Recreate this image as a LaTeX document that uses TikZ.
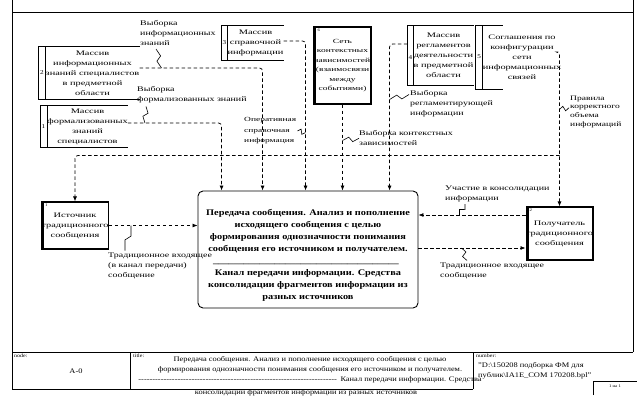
\documentclass[tikz,border=0pt]{standalone}
\usepackage{fontspec}
\setmainfont{Liberation Serif}[FakeStretch=1.2]
\newfontfamily\wfont{Liberation Serif}[FakeStretch=1.5]
\newfontfamily\lfont{Liberation Serif}[FakeStretch=1.4]
\usetikzlibrary{arrows.meta,calc}

\tikzset{
  txt/.style={font=\fontsize{7}{10}\selectfont, inner sep=0pt},
  lbl/.style={font=\lfont\fontsize{7.1}{10}\selectfont, inner sep=0pt, align=left, anchor=north west},
  obox/.style={font=\wfont\fontsize{6.9}{10}\selectfont, inner sep=0pt, align=center},
  kbox/.style={obox, draw, line width=1.1pt},
  num/.style={font=\fontsize{6}{6}\selectfont, inner sep=0pt},
  edge/.style={line width=0.7pt},
  flow/.style={line width=0.75pt, dash pattern=on 3.5pt off 2.5pt, rounded corners=3pt, -{Latex[length=5pt,width=4pt]}},
  zz/.style={line width=0.6pt},
}
\newcommand{\zig}[2]{%
  \coordinate (za) at (#1); \coordinate (zb) at (#2);
  \draw[zz] (za) -- ($(za)!0.4!(zb)!2.5pt!90:(zb)$) -- ($(za)!0.6!(zb)!2.5pt!-90:(zb)$) -- (zb);}

\begin{document}
\begin{tikzpicture}[x=1pt,y=-1pt,>=Latex]
\useasboundingbox (0,0) rectangle (639,404);
% frame
\draw[edge] (12,0) -- (12,389) -- (473,389);
\draw[edge] (12,12) -- (633,12);
\draw[edge] (633,0) -- (633,352);
\draw[edge] (12,352) -- (633,352);
\draw[edge] (130,352) -- (130,389);
\draw[edge] (473,352) -- (473,389);
\draw[edge] (593,395) -- (593,381) -- (637,381);

% arrays and sources
\node[obox, minimum width=85pt, minimum height=52pt] (mas2) at (92.5,73) {Массив\\информационных\\знаний специалистов\\в предметной\\области};
\node[obox, minimum width=75pt, minimum height=41pt] (mas1) at (87.5,126.5) {Массив\\формализованных\\знаний\\специалистов};
\node[obox, minimum width=49pt, minimum height=34pt] (mas3) at (255.5,43) {Массив\\справочной\\информации};
\node[obox, minimum width=53pt, minimum height=59pt] (mas4) at (443.5,55.5) {Массив\\регламентов\\деятельности\\в предметной\\области};
\node[obox, minimum width=52pt, minimum height=63pt] (mas5) at (522,57.5) {Соглашения по\\конфигурации\\сети\\информационных\\связей};
\draw[edge] (mas2.north east) -- ($(mas2.north west)+(-7,0)$) -- ($(mas2.south west)+(-7,0)$) -- (mas2.south east);
\draw[edge] (mas2.north west) -- (mas2.south west);
\draw[edge] (mas1.north east) -- ($(mas1.north west)+(-7,0)$) -- ($(mas1.south west)+(-7,0)$) -- (mas1.south east);
\draw[edge] (mas1.north west) -- (mas1.south west);
\draw[edge] (mas3.north east) -- ($(mas3.north west)+(-6,0)$) -- ($(mas3.south west)+(-6,0)$) -- (mas3.south east);
\draw[edge] (mas3.north west) -- (mas3.south west);
\draw[edge] (mas4.north east) -- ($(mas4.north west)+(-6,0)$) -- ($(mas4.south west)+(-6,0)$) -- (mas4.south east);
\draw[edge] (mas4.north west) -- (mas4.south west);
\draw[edge] ($(mas5.north west)+(20,0)$) -- ($(mas5.north west)+(-7,0)$) -- ($(mas5.south west)+(-7,0)$) -- ($(mas5.south west)+(20,0)$);
\draw[edge] (mas5.north west) -- (mas5.south west);
\node[num] (n2) at ($(mas2.west)+(-3.5,0)$) {2};
\node[num] (n1) at ($(mas1.west)+(-3.5,0)$) {1};
\node[num] (n3) at ($(mas3.west)+(-3,0)$) {3};
\node[num] (n4) at ($(mas4.west)+(-3,2)$) {4};
\node[num] (n5) at ($(mas5.west)+(-3.5,-1)$) {5};

\node[kbox, minimum width=57pt, minimum height=77pt, font=\wfont\fontsize{6.3}{9.5}\selectfont] (svz) at (342.5,65.5) {Сеть\\контекстных\\зависимостей\\(взаимосвязи\\между\\событиями)};
\fill (svz.north west) rectangle ($(svz.south west)+(3,0)$);
\node[num, font=\fontsize{4}{4}\selectfont, anchor=north west] (n6) at ($(svz.north west)+(4,2)$) {6};

\node[kbox, minimum width=56pt, minimum height=47pt] (ist) at (75,225.5) {Источник\\традиционного\\сообщения};
\fill (ist.north west) rectangle ($(ist.south west)+(3,0)$);
\node[num, font=\fontsize{4}{4}\selectfont, anchor=north west] (ni) at ($(ist.north west)+(4,2)$) {1};
\node[kbox, minimum width=55pt, minimum height=53pt] (pol) at (559.5,233.5) {Получатель\\традиционного\\сообщения};
\fill (pol.north west) rectangle ($(pol.south west)+(3,0)$);
\node[num, font=\fontsize{4}{4}\selectfont, anchor=north west] (np) at ($(pol.north west)+(4,2)$) {2};

% process
\node[draw, line width=0.9pt, rounded corners=5pt, minimum width=220pt, minimum height=117pt] (proc) at (308,249.5) {};
\node[font=\fontsize{8.6}{12}\selectfont\bfseries, align=center, inner sep=0pt] (proctxt) at (308,255.5) {Передача сообщения. Анализ и пополнение\\исходящего сообщения с целью\\формирования однозначности понимания\\сообщения его источником и получателем.\\\hbox to 190pt{\leaders\hbox{\_}\hfill}\\Канал передачи информации. Средства\\консолидации фрагментов информации из\\разных источников};

% arrows
\draw[flow] ($(mas1.east)+(0,-3.5)$) -| ($(proc.north west)+(24,0)$);
\draw[flow] ($(mas2.east)+(0,-5)$) -| ($(proc.north west)+(65,0)$);
\draw[flow] ($(mas3.east)+(0,-2)$) -| ($(proc.north west)+(108,0)$);
\draw[flow] (svz.south) -- (svz.south |- proc.north);
\draw[flow] ($(mas4.west)+(-6,-11.5)$) -| ($(proc.north west)+(192,0)$);
\draw[flow] ($(mas5.east)+(-3,-5.5)$) -| (pol.north);
\coordinate (split) at ($(pol.north)+(0,-51)$);
\draw[flow] (split) -| (ist.north);
\draw[flow] (ist.east) -- (ist.east -| proc.west);
\coordinate (pin) at ($(pol.west)+(0,14.5)$);
\coordinate (pout) at ($(pol.west)+(0,-18.5)$);
\draw[flow] (pin -| proc.east) -- (pin);
\draw[flow] (pout) -- (pout -| proc.east);

% labels
\node[lbl] (vib1) at (140,20.5) {Выборка\\информационных\\знаний};
\node[lbl] (vib2) at (137,86.5) {Выборка\\формализованных знаний};
\node[lbl, font=\wfont\fontsize{6.3}{10.5}\selectfont] (oper) at (244,117.5) {Оперативная\\справочная\\информация};
\node[lbl] (vib4) at (359,130.5) {Выборка контекстных\\зависимостей};
\node[lbl] (vib5) at (410,90.5) {Выборка\\регламентирующей\\информации};
\node[lbl, font=\lfont\fontsize{6.8}{8.7}\selectfont] (prav) at (570,95.5) {Правила\\корректного\\объема\\информаций};
\node[lbl] (uch) at (445,185.5) {Участие в консолидации\\информации};
\node[lbl] (trad1) at (108,252.5) {Традиционное входящее\\(в канал передачи)\\сообщение};
\node[lbl] (trad2) at (440,262.5) {Традиционное входящее\\сообщение};
\zig{$(vib1.south west)+(16,3)$}{$(mas2.east)+(22,-5)$}
\zig{$(vib2.south west)+(9,3)$}{$(mas1.east)+(17,-3.5)$}
\zig{$(oper.east)+(1,0)$}{$(proc.north west)+(108,-58)$}
\zig{$(svz.south)+(0,36)$}{vib4.west}
\zig{$(proc.north west)+(192,-91)$}{$(vib5.north west)+(-1,4)$}
\zig{$(pol.north)+(0,-97)$}{$(prav.west)+(-1,-4)$}
\zig{$(uch.south west)+(20,2)$}{$(pout)+(-66,0)$}
\zig{$(ist.east)+(22,0)$}{$(trad1.north west)+(17,-2)$}
\zig{$(pin)+(-64,0)$}{$(trad2.north west)+(27,-2)$}

% title block
\node[num, font=\fontsize{5}{5}\selectfont, anchor=north west] (nodelbl) at (14,354) {node:};
\node[txt] (nodenum) at (76,371) {A-0};
\node[num, font=\fontsize{5}{5}\selectfont, anchor=north west] (titlelbl) at (133,354) {title:};
\node[txt, align=center] (title) at (310,370) {Передача сообщения. Анализ и пополнение исходящего сообщения с целью\\формирования однозначности понимания сообщения его источником и получателем.\\\hbox to 200pt{\leaders\hbox{-}\hfill} Канал передачи информации. Средства};
\node[txt] (title2) at (306,393) {консолидации фрагментов информации из разных источников};
\node[num, font=\fontsize{5}{5}\selectfont, anchor=north west] (numlbl) at (476,354) {number:};
\node[txt, anchor=north west, align=left] (fname) at (478,362) {"D:\textbackslash150208 подборка ФМ для\\публик\textbackslash IA1E\_COM 170208.bpl"};
\node[num, font=\fontsize{4}{4}\selectfont] (page) at (615,386) {1 на 1};
\end{tikzpicture}
\end{document}
